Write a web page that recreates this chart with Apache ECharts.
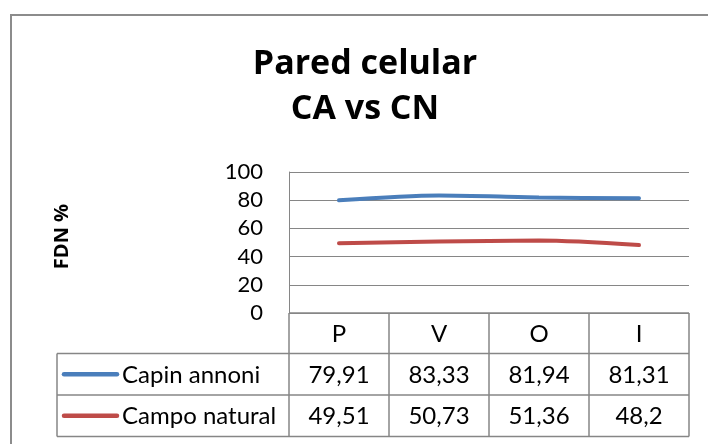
<!DOCTYPE html>
<html><head><meta charset="utf-8">
<script src="https://cdn.jsdelivr.net/npm/echarts@6/dist/echarts.min.js"></script>
<style>html,body{margin:0;padding:0;background:#fff}#c{width:708px;height:444px}</style>
</head><body><div id="c"></div>
<script>
var categories = ['P', 'V', 'O', 'I'];
var seriesNames = ['Capin annoni', 'Campo natural'];
var capinAnnoni = [79.91, 83.33, 81.94, 81.31];
var campoNatural = [49.51, 50.73, 51.36, 48.2];
var yTicks = [0, 20, 40, 60, 80, 100];
var titleLines = ['Pared celular', 'CA vs CN'];
var yName = 'FDN %';

var colors = ['#4A7EBB', '#BE4B48'];
var FONT = 'Lato';
var BFONT = 'Open Sans';
var GRAY = '#868686';
var chart = echarts.init(document.getElementById('c'), null, {renderer: 'canvas'});
var grid = {left: 289, top: 172, width: 400, height: 141};
chart.setOption({
  animation: false,
  textStyle: {fontFamily: FONT},
  grid: grid,
  xAxis: {type: 'category', data: categories, boundaryGap: true,
    axisLine: {show: false}, axisTick: {show: false}, axisLabel: {show: false}, splitLine: {show: false}},
  yAxis: {type: 'value', min: yTicks[0], max: yTicks[yTicks.length - 1], interval: 20,
    name: yName, nameLocation: 'middle', nameGap: 217, nameRotate: 90,
    nameTextStyle: {fontFamily: BFONT, fontWeight: 'bold', fontSize: 20, color: '#000', padding: [0, 0, 0, 12]},
    axisLine: {show: true, lineStyle: {color: GRAY, width: 1}}, axisTick: {show: false},
    axisLabel: {margin: 26, fontSize: 22, color: '#000', fontFamily: FONT},
    splitLine: {show: true, lineStyle: {color: GRAY, width: 1}}},
  series: [
    {name: seriesNames[0], type: 'line', data: capinAnnoni, smooth: 0.3, symbol: 'none',
      lineStyle: {color: colors[0], width: 4, cap: 'round'}},
    {name: seriesNames[1], type: 'line', data: campoNatural, smooth: 0.3, symbol: 'none',
      lineStyle: {color: colors[1], width: 4, cap: 'round'}}
  ]
});

function fmt(v) { return String(v).replace('.', ','); }

var x0 = chart.convertToPixel({xAxisIndex: 0}, 0);
var x1 = chart.convertToPixel({xAxisIndex: 0}, 1);
var step = x1 - x0;
var left = grid.left, right = grid.left + grid.width;
var yAxis0 = chart.convertToPixel({yAxisIndex: 0}, 0);
var rowH = 41.5;
var headTop = yAxis0, headBot = yAxis0 + 40.5;
var tableLeft = 57;
var rowTops = [headBot, headBot + rowH];
var tableBot = headBot + 2 * rowH;
var els = [];
// outer chart border
els.push({type: 'rect', shape: {x: 11, y: 15, width: 720, height: 460}, style: {fill: null, stroke: '#8c8c8c', lineWidth: 2}, z: 1});
// title
titleLines.forEach(function (t, i) {
  els.push({type: 'text', x: 365, y: 64 + i * 45, style: {text: t, fontFamily: BFONT, fontWeight: 'bold', fontSize: 34, fill: '#000', textAlign: 'center', textVerticalAlign: 'middle'}});
});
// table lines
function hline(y, xa, xb) { els.push({type: 'line', shape: {x1: xa, y1: y, x2: xb, y2: y}, style: {stroke: GRAY, lineWidth: 1.5}}); }
function vline(x, ya, yb) { els.push({type: 'line', shape: {x1: x, y1: ya, x2: x, y2: yb}, style: {stroke: GRAY, lineWidth: 1.5}}); }
hline(headTop, left, right);
hline(headBot, tableLeft, right);
hline(headBot + rowH, tableLeft, right);
hline(tableBot, tableLeft, right);
vline(tableLeft, headBot, tableBot);
for (var k = 0; k <= categories.length; k++) {
  var xb = x0 - step / 2 + k * step;
  vline(xb, headTop, tableBot);
}
// header cells
categories.forEach(function (c, i) {
  var cx = chart.convertToPixel({xAxisIndex: 0}, i);
  els.push({type: 'text', x: cx, y: (headTop + headBot) / 2 + 1, style: {text: c, fontFamily: FONT, fontSize: 24, fill: '#000', textAlign: 'center', textVerticalAlign: 'middle'}});
});
// rows
[capinAnnoni, campoNatural].forEach(function (arr, r) {
  var cy = rowTops[r] + rowH / 2;
  els.push({type: 'line', shape: {x1: 64, y1: cy, x2: 117, y2: cy}, style: {stroke: colors[r], lineWidth: 4.5, lineCap: 'round'}});
  els.push({type: 'text', x: 122, y: cy + 1, style: {text: seriesNames[r], fontFamily: FONT, fontSize: 24, fill: '#000', textAlign: 'left', textVerticalAlign: 'middle'}});
  arr.forEach(function (v, i) {
    var cx = chart.convertToPixel({xAxisIndex: 0}, i);
    els.push({type: 'text', x: cx, y: cy + 1, style: {text: fmt(v), fontFamily: FONT, fontSize: 24, fill: '#000', textAlign: 'center', textVerticalAlign: 'middle'}});
  });
});
chart.setOption({graphic: {elements: els}});
</script></body></html>
